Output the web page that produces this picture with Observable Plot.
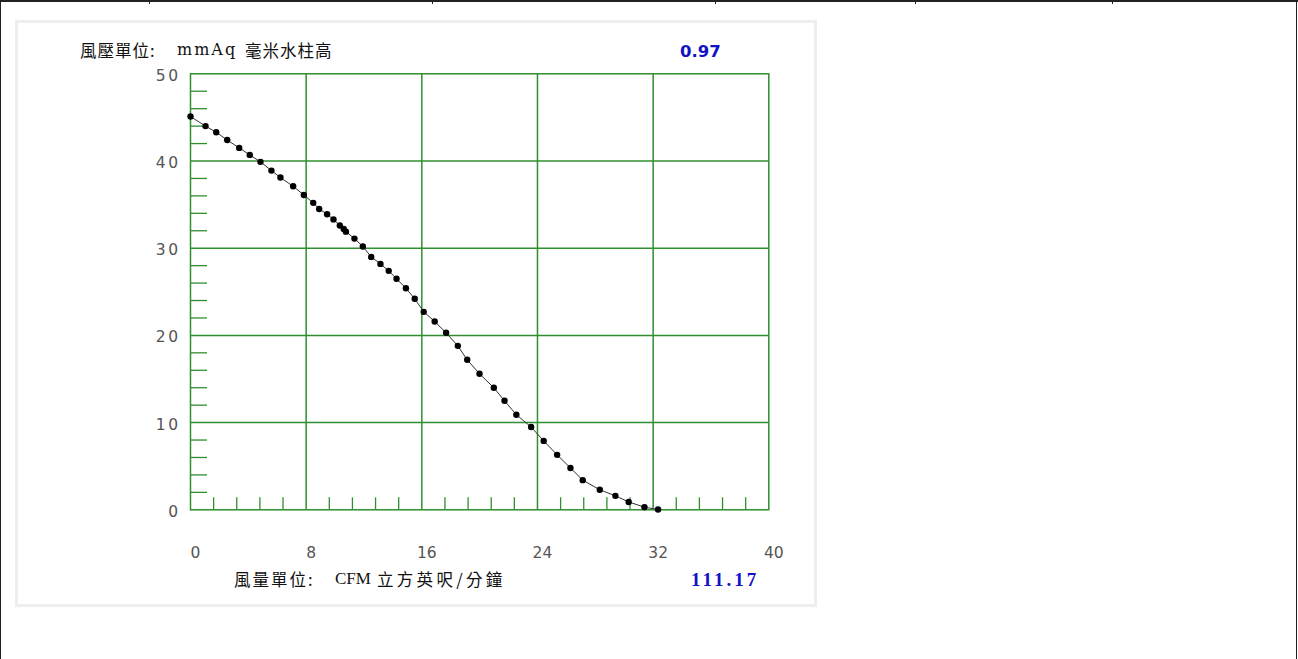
<!DOCTYPE html>
<html>
<head>
<meta charset="utf-8">
<script src="https://cdn.jsdelivr.net/npm/d3@7"></script>
<script src="https://cdn.jsdelivr.net/npm/@observablehq/plot@0.6"></script>
<style>
  html, body { margin: 0; padding: 0; background: #fff; }
  body { width: 1298px; height: 659px; position: relative; overflow: hidden; }
  .ln { position: absolute; background: #222; }
  #panel { position: absolute; left: 15px; top: 20px; width: 802px; height: 587px; box-sizing: border-box; border: 3px solid #eeeeee; }
  #chart { position: absolute; left: 0; top: 0; }
  .lbl { position: absolute; white-space: nowrap; line-height: 20px; height: 20px; color: #111; }
  .cjk { font-family: "Noto Sans CJK TC", "Noto Sans CJK SC", sans-serif; font-size: 16.5px; letter-spacing: 1px; }
  .ser { font-family: "Liberation Serif", serif; font-size: 17px; }
  .val { color: #1212c4; font-weight: bold; }
  g[aria-label="y-axis tick label"] text { letter-spacing: 2.5px; }
</style>
</head>
<body>
<div class="ln" style="left:0;top:0;width:1298px;height:2px;"></div>
<div class="ln" style="left:0;top:0;width:1px;height:659px;"></div>
<div class="ln" style="left:1296px;top:0;width:1px;height:659px;"></div>
<div class="ln" style="left:149px;top:0;width:1px;height:4px;"></div>
<div class="ln" style="left:432px;top:0;width:1px;height:4px;"></div>
<div class="ln" style="left:715px;top:0;width:1px;height:4px;"></div>
<div class="ln" style="left:915px;top:0;width:1px;height:4px;"></div>
<div class="ln" style="left:1112px;top:0;width:1px;height:4px;"></div>
<div id="panel"></div>
<div id="chart"></div>
<div class="lbl cjk" style="left:80px;top:40px;">風壓單位:</div>
<div class="lbl" style="left:177px;top:40px;font-family:'DejaVu Serif',serif;font-size:16px;letter-spacing:2px;">mmAq</div>
<div class="lbl cjk" style="left:245px;top:40px;">毫米水柱高</div>
<div class="lbl val" style="left:680px;top:42px;font-family:'DejaVu Sans',sans-serif;font-size:16.5px;">0.97</div>
<div class="lbl cjk" style="left:234px;top:569px;letter-spacing:2px;">風量單位:</div>
<div class="lbl ser" style="left:335px;top:569px;">CFM</div>
<div class="lbl cjk" style="left:377px;top:569px;letter-spacing:3.3px;">立方英呎/分鐘</div>
<div class="lbl val" style="left:691px;top:570px;font-family:'Liberation Serif',serif;font-size:19px;letter-spacing:3px;">111.17</div>
<script>
// Data
const cfm = [0, 1.04, 1.78, 2.54, 3.37, 4.10, 4.84, 5.60, 6.22, 7.10, 7.84, 8.49, 8.90, 9.45, 9.89, 10.33, 10.60, 10.75, 11.34, 11.92, 12.50, 13.14, 13.71, 14.25, 14.90, 15.51, 16.13, 16.89, 17.68, 18.49, 19.14, 19.99, 20.98, 21.72, 22.54, 23.56, 24.43, 25.36, 26.28, 27.13, 28.31, 29.39, 30.31, 31.40, 32.34];
const pressure = [45.1, 44.0, 43.3, 42.4, 41.5, 40.7, 39.9, 38.9, 38.1, 37.1, 36.1, 35.2, 34.5, 33.9, 33.3, 32.6, 32.2, 31.9, 31.1, 30.2, 29.0, 28.2, 27.4, 26.5, 25.4, 24.2, 22.7, 21.6, 20.3, 18.8, 17.2, 15.6, 14.0, 12.5, 10.9, 9.5, 7.9, 6.3, 4.8, 3.4, 2.3, 1.6, 0.9, 0.3, 0.03];
const xTicks = [0, 8, 16, 24, 32, 40];
const yTicks = [0, 10, 20, 30, 40, 50];
const xGrid = [8, 16, 24, 32];
const yGrid = [10, 20, 30, 40];
const xMinor = [1.6, 3.2, 4.8, 6.4, 9.6, 11.2, 12.8, 14.4, 17.6, 19.2, 20.8, 22.4, 25.6, 27.2, 28.8, 30.4, 33.6, 35.2, 36.8, 38.4];
const yMinor = [2, 4, 6, 8, 12, 14, 16, 18, 22, 24, 26, 28, 32, 34, 36, 38, 42, 44, 46, 48];

const points = cfm.map((x, i) => ({x, y: pressure[i]}));

const W = 830, H = 620;
const mL = 190, mR = W - 768.3, mT = 73.3, mB = H - 509.3;
const innerW = W - mL - mR, innerH = H - mT - mB;
const green = "#2f8f2f";

const chart = Plot.plot({
  width: W,
  height: H,
  marginLeft: mL,
  marginRight: mR,
  marginTop: mT,
  marginBottom: mB,
  style: {background: "transparent", overflow: "visible"},
  x: {domain: [0, 40]},
  y: {domain: [0, 50]},
  marks: [
    Plot.ruleX(xGrid, {stroke: green, strokeWidth: 1.5}),
    Plot.ruleY(yGrid, {stroke: green, strokeWidth: 1.5}),
    Plot.ruleX(xMinor, {stroke: green, strokeWidth: 1.3, insetTop: innerH - 12}),
    Plot.ruleY(yMinor, {stroke: green, strokeWidth: 1.3, insetRight: innerW - 17}),
    Plot.frame({stroke: green, strokeWidth: 1.5}),
    Plot.axisX(xTicks, {tickSize: 0, tickPadding: 37, dx: 5, fontSize: 15.5, fill: "#555", label: null, fontFamily: "DejaVu Sans, sans-serif"}),
    Plot.axisY(yTicks, {tickSize: 0, tickPadding: 10, dy: 2, fontSize: 15.5, fill: "#555", label: null, fontFamily: "DejaVu Sans, sans-serif"}),
    Plot.line(points, {x: "x", y: "y", stroke: "#333", strokeWidth: 1}),
    Plot.dot(points, {x: "x", y: "y", r: 3.2, fill: "#000", stroke: "none"})
  ]
});
document.getElementById("chart").appendChild(chart);
</script>
</body>
</html>
